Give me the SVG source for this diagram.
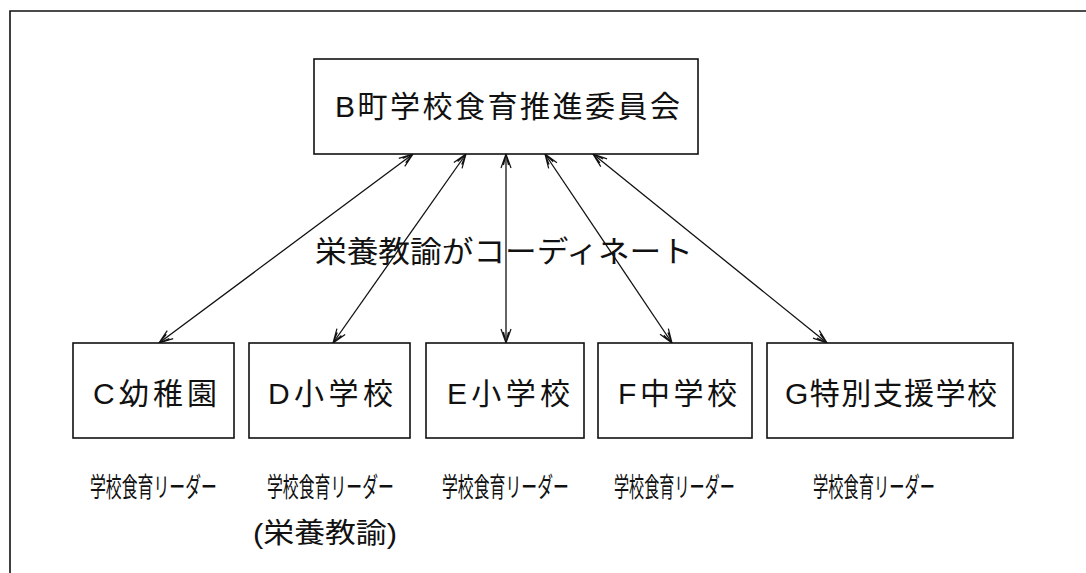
<svg xmlns="http://www.w3.org/2000/svg" width="1086" height="573" viewBox="0 0 1086 573">
<style>
.box{fill:#fff;stroke:#111;stroke-width:1.6}
.frame{fill:none;stroke:#111;stroke-width:1.6}
.t{font-family:"Liberation Sans","Noto Sans CJK JP",sans-serif;fill:#111}
.big{font-size:30px}
.lead{font-size:27px}
.conn{stroke:#111;stroke-width:1.3;fill:none;marker-start:url(#ah);marker-end:url(#ah)}
</style>
<defs>
<marker id="ah" markerWidth="18" markerHeight="12" refX="15" refY="6" orient="auto-start-reverse" markerUnits="userSpaceOnUse">
<path d="M1,1 L15,6 L1,11 M4,3.5 L15,6 L4,8.5" fill="none" stroke="#111" stroke-width="1.2"/>
</marker>
</defs>
<rect width="1086" height="573" fill="#fff"/>
<path class="frame" d="M10,573 L10,11 L1086,11"/>
<g id="connectors">
<line class="conn" x1="413" y1="154" x2="159" y2="343"/>
<line class="conn" x1="466" y1="154" x2="333" y2="343"/>
<line class="conn" x1="506" y1="154" x2="506" y2="343"/>
<line class="conn" x1="545" y1="154" x2="672" y2="343"/>
<line class="conn" x1="593" y1="154" x2="827" y2="343"/>
</g>
<g id="label-coord">
<text class="t big" x="315" y="262" textLength="378" lengthAdjust="spacingAndGlyphs">栄養教諭がコーディネート</text>
</g>
<g id="node-B">
<rect class="box" x="314" y="59" width="384" height="95"/>
<text class="t big" x="335" y="117" textLength="345" lengthAdjust="spacing">B町学校食育推進委員会</text>
</g>
<g id="node-C">
<rect class="box" x="73" y="343" width="161" height="95"/>
<text class="t big" x="93" y="404" textLength="124" lengthAdjust="spacing">C幼稚園</text>
<text class="t lead" transform="translate(90,497) scale(0.588,1)">学校食育リーダー</text>
</g>
<g id="node-D">
<rect class="box" x="249" y="343" width="161" height="95"/>
<text class="t big" x="268" y="404" textLength="125" lengthAdjust="spacing">D小学校</text>
<text class="t lead" transform="translate(267,497) scale(0.588,1)">学校食育リーダー</text>
<text class="t" style="font-size:28px" x="253" y="543" textLength="144" lengthAdjust="spacingAndGlyphs">(栄養教諭)</text>
</g>
<g id="node-E">
<rect class="box" x="426" y="343" width="158" height="95"/>
<text class="t big" x="447" y="404" textLength="123" lengthAdjust="spacing">E小学校</text>
<text class="t lead" transform="translate(442,497) scale(0.588,1)">学校食育リーダー</text>
</g>
<g id="node-F">
<rect class="box" x="598" y="343" width="154" height="95"/>
<text class="t big" x="618" y="404" textLength="119" lengthAdjust="spacing">F中学校</text>
<text class="t lead" transform="translate(614,497) scale(0.56,1)">学校食育リーダー</text>
</g>
<g id="node-G">
<rect class="box" x="767" y="343" width="246" height="95"/>
<text class="t big" x="785" y="404" textLength="212" lengthAdjust="spacing">G特別支援学校</text>
<text class="t lead" transform="translate(813,497) scale(0.565,1)">学校食育リーダー</text>
</g>
</svg>
